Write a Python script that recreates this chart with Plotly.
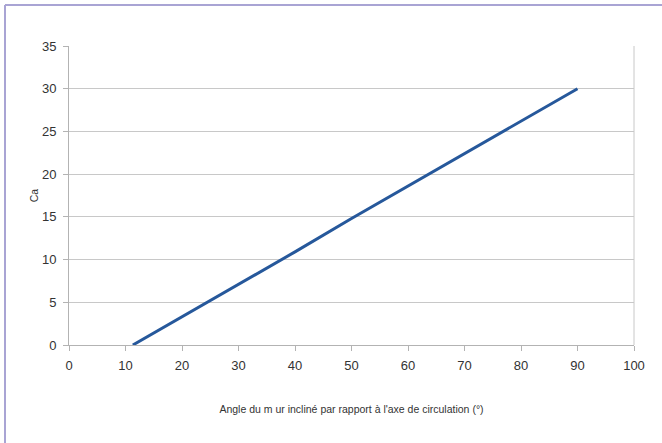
import plotly.graph_objects as go

angle = [11.3, 20, 30, 40, 50, 60, 70, 80, 90]
ca = [0, 3.3, 7.1, 10.9, 14.8, 18.6, 22.4, 26.2, 30]

x_title = "Angle du m ur incliné par rapport à l'axe de circulation (°)"
y_title = "Ca"

L, R, T, B = 69, 28, 46, 98
W, H = 662, 443
pw, ph = W - L - R, H - T - B

def px2x(p):
    return (p - L) / pw

def py2y(p):
    return (H - B - p) / ph

fig = go.Figure()
fig.add_trace(go.Scatter(x=angle, y=ca, mode="lines",
                         line=dict(color="#26589b", width=3), showlegend=False))

fig.update_layout(
    width=W, height=H,
    margin=dict(l=L, r=R, t=T, b=B),
    paper_bgcolor="white", plot_bgcolor="white",
    font=dict(family="Liberation Sans, Arial, sans-serif", color="#333333", size=13),
    xaxis=dict(range=[0, 100], dtick=10, tick0=0, showgrid=False,
               showline=True, linecolor="#b3b3b3", linewidth=1, mirror=False,
               ticks="outside", ticklen=5, tickcolor="#b3b3b3",
               ticklabelstandoff=3,
               zeroline=False,
               title=dict(text=x_title, font=dict(size=10.5), standoff=34)),
    yaxis=dict(range=[0, 35], dtick=5, tick0=0, showgrid=True, gridcolor="#c8c8c8",
               gridwidth=1, showline=True, linecolor="#b3b3b3", linewidth=1,
               ticks="outside", ticklen=5, tickcolor="#b3b3b3", zeroline=False,
               ticklabelstandoff=4,
               title=dict(text=y_title, font=dict(size=10.5), standoff=1)),
    shapes=[
        dict(type="line", xref="paper", yref="paper", x0=1, x1=1, y0=0, y1=1,
             line=dict(color="#c8c8c8", width=1)),
        dict(type="line", xref="paper", yref="paper", x0=px2x(5), x1=px2x(W), y0=py2y(5), y1=py2y(5),
             line=dict(color="#a9a4d4", width=2)),
        dict(type="line", xref="paper", yref="paper", x0=px2x(5), x1=px2x(5), y0=py2y(5), y1=py2y(H),
             line=dict(color="#a9a4d4", width=2)),
    ],
)

fig.write_html("out.html", config={"displayModeBar": False},
               post_script="document.body.style.margin='0';")
